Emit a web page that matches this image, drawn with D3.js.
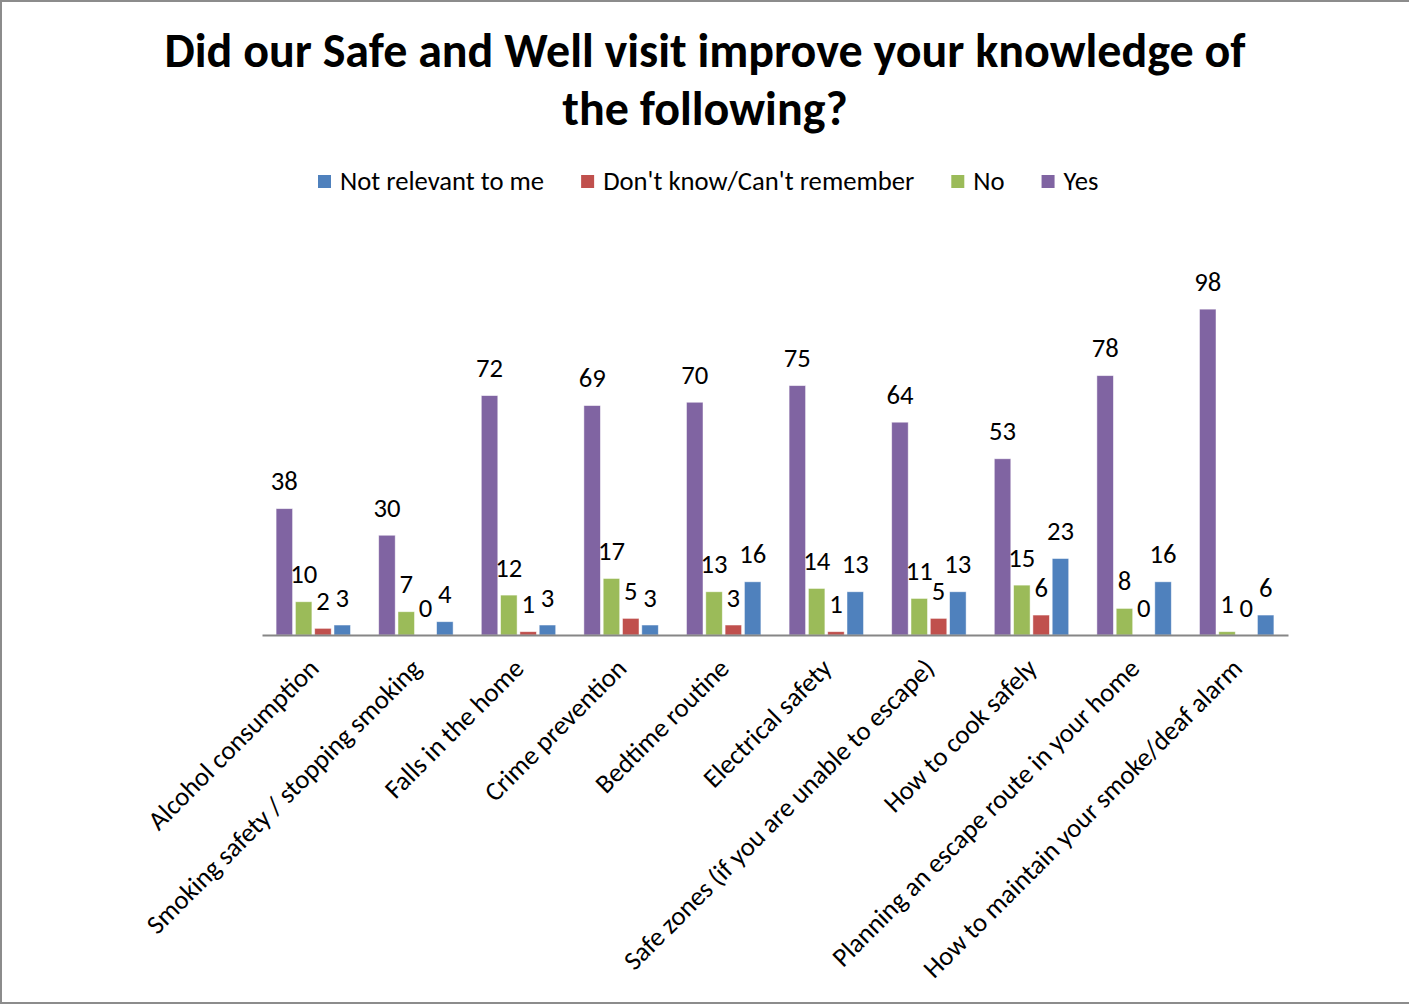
<!DOCTYPE html>
<html>
<head>
<meta charset="utf-8">
<script src="https://cdn.jsdelivr.net/npm/d3@7"></script>
<style>
  html, body { margin: 0; padding: 0; background: #fff; }
  svg { display: block; }
  text { font-family: Carlito, Lato, "Open Sans", sans-serif; fill: #000; }
</style>
</head>
<body>
<svg id="chart" width="1409" height="1005"></svg>
<script>
// Survey topics (x-axis categories)
const categories = [
  "Alcohol consumption",
  "Smoking safety / stopping smoking",
  "Falls in the home",
  "Crime prevention",
  "Bedtime routine",
  "Electrical safety",
  "Safe zones (if you are unable to escape)",
  "How to cook safely",
  "Planning an escape route in your home",
  "How to maintain your smoke/deaf alarm"
];

// Response counts per topic
const yesValues         = [38, 30, 72, 69, 70, 75, 64, 53, 78, 98];
const noValues          = [10, 7, 12, 17, 13, 14, 11, 15, 8, 1];
const dontKnowValues    = [2, 0, 1, 5, 3, 1, 5, 6, 0, 0];
const notRelevantValues = [3, 4, 3, 3, 16, 13, 13, 23, 16, 6];

// Series names (legend order) and bar order within each group
const legendOrder = ["Not relevant to me", "Don't know/Can't remember", "No", "Yes"];
const barOrder    = ["Yes", "No", "Don't know/Can't remember", "Not relevant to me"];

const titleLines = ["Did our Safe and Well visit improve your knowledge of", "the following?"];

const seriesValues = {
  "Yes": yesValues,
  "No": noValues,
  "Don't know/Can't remember": dontKnowValues,
  "Not relevant to me": notRelevantValues
};
const colors = d3.scaleOrdinal()
  .domain(["Not relevant to me", "Don't know/Can't remember", "No", "Yes"])
  .range(["#4F81BD", "#C0504D", "#9BBB59", "#8064A2"]);

const svg = d3.select("#chart");

// Outer frame (top, left and bottom edges visible)
svg.append("rect")
  .attr("x", 1).attr("y", 1).attr("width", 1440).attr("height", 1002)
  .attr("fill", "none").attr("stroke", "#8c8c8c").attr("stroke-width", 2);

// Title
svg.append("g").selectAll("text")
  .data(titleLines).join("text")
  .attr("x", 705).attr("y", (d, i) => 67 + i * 58)
  .attr("text-anchor", "middle")
  .style("font-size", "48px").style("font-weight", "bold")
  .text(d => d);

// Scales
const baseY = 635;
const x = d3.scaleBand().domain(categories).range([262, 1288]).paddingInner(0).paddingOuter(0);
const xInner = d3.scaleBand().domain(barOrder).range([0, x.bandwidth()])
  .paddingInner(0.145).paddingOuter(0.73);
const y = d3.scaleLinear().domain([0, 120]).range([baseY, 236]);

// Bars
const rows = [];
categories.forEach((c, i) => {
  barOrder.forEach(s => rows.push({ cat: c, series: s, value: seriesValues[s][i] }));
});

const plot = svg.append("g");
plot.selectAll("rect.bar")
  .data(rows).join("rect")
  .attr("class", "bar")
  .attr("x", d => x(d.cat) + xInner(d.series))
  .attr("width", xInner.bandwidth())
  .attr("y", d => y(d.value))
  .attr("height", d => baseY - y(d.value))
  .attr("fill", d => colors(d.series))
  .attr("stroke", "#ffffff").attr("stroke-opacity", 0.6).attr("stroke-width", 0.8);

// Value labels
plot.selectAll("text.val")
  .data(rows).join("text")
  .attr("class", "val")
  .attr("x", d => x(d.cat) + xInner(d.series) + xInner.bandwidth() / 2)
  .attr("y", d => y(d.value) - 18.5)
  .attr("text-anchor", "middle")
  .style("font-size", "26.67px")
  .text(d => d.value);

// Category axis
const xAxis = svg.append("g").attr("transform", `translate(0,${baseY})`)
  .call(d3.axisBottom(x).tickSize(0).tickFormat(""));
xAxis.select(".domain").attr("stroke", "#868686").attr("stroke-width", 2);

svg.append("g").selectAll("text")
  .data(categories).join("text")
  .attr("transform", d => `translate(${x(d) + x.bandwidth() / 2 + 7},${670}) rotate(-45)`)
  .attr("text-anchor", "end")
  .style("font-size", "26.67px")
  .text(d => d);

// Legend
const legend = svg.append("g");
let lx = 318;
legendOrder.forEach(name => {
  const g = legend.append("g");
  g.append("rect").attr("x", lx).attr("y", 175).attr("width", 13).attr("height", 13)
    .attr("fill", colors(name));
  const t = g.append("text").attr("x", lx + 22).attr("y", 190)
    .style("font-size", "26.67px").text(name);
  lx = lx + 22 + t.node().getComputedTextLength() + 37;
});
</script>
</body>
</html>
